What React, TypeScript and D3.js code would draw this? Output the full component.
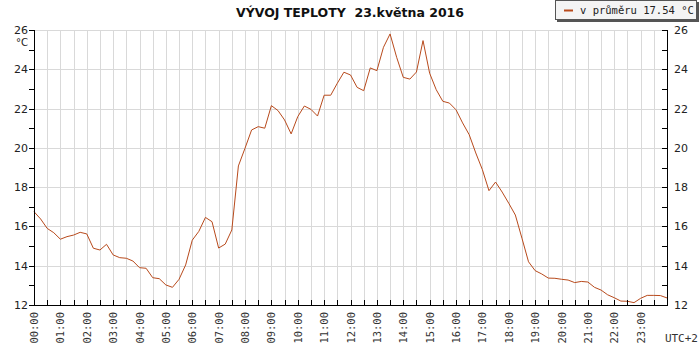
import React from "react";
import * as d3 from "d3";

// temperature every 15 minutes, 00:00 .. 24:00
const STEP_MIN = 15;
const temps = [
  16.75, 16.38, 15.9, 15.68, 15.35, 15.48, 15.56, 15.7, 15.62, 14.89, 14.8, 15.09,
  14.55, 14.41, 14.38, 14.24, 13.9, 13.87, 13.39, 13.34, 13.02, 12.9, 13.31, 14.04,
  15.3, 15.75, 16.46, 16.24, 14.9, 15.1, 15.82, 19.08, 19.98, 20.91, 21.08, 21.0,
  22.15, 21.9, 21.42, 20.71, 21.59, 22.13, 21.96, 21.62, 22.68, 22.68, 23.29, 23.85,
  23.71, 23.08, 22.91, 24.07, 23.93, 25.12, 25.8, 24.61, 23.59, 23.5, 23.86, 25.46,
  23.8, 22.96, 22.37, 22.28, 21.94, 21.27, 20.67, 19.74, 18.89, 17.82, 18.26, 17.75,
  17.18, 16.58, 15.4, 14.2, 13.75, 13.58, 13.37, 13.36, 13.31, 13.27, 13.14, 13.2,
  13.17, 12.9, 12.76, 12.52, 12.37, 12.2, 12.19, 12.12, 12.34, 12.49, 12.49, 12.48,
  12.36,
];
const hourLabels = [
  "00:00", "01:00", "02:00", "03:00", "04:00", "05:00", "06:00", "07:00",
  "08:00", "09:00", "10:00", "11:00", "12:00", "13:00", "14:00", "15:00",
  "16:00", "17:00", "18:00", "19:00", "20:00", "21:00", "22:00", "23:00",
];
const yTicks = [12, 14, 16, 18, 20, 22, 24, 26];
const title = "VÝVOJ TEPLOTY  23.května 2016";
const legendText = "v průměru 17.54 °C";

const W = 700;
const H = 350;
const left = 34;
const right = 667;
const top = 30;
const bottom = 305;
const LINE = "#b84a1c";
const GRID = "#d9d9d9";

function App() {
  const x = d3.scaleLinear().domain([0, 24 * 60]).range([left, right]);
  const y = d3.scaleLinear().domain([12, 26]).range([bottom, top]);
  const px = (v: number) => Math.round(v) + 0.5;

  const line = d3
    .line<number>()
    .x((_, i) => x(i * STEP_MIN))
    .y((d) => y(d));

  const halfHours = d3.range(0, 24 * 60 + 1, 30);
  const minorY = d3.range(12, 27, 1);

  return (
    <svg width={W} height={H} style={{ position: "absolute", left: 0, top: 0, background: "#fff" }}>
      {/* grid */}
      {halfHours.slice(1, -1).map((m) => (
        <line key={"vg" + m} x1={px(x(m))} x2={px(x(m))} y1={top} y2={bottom} stroke={GRID} />
      ))}
      {yTicks.slice(1).map((t) => (
        <line key={"hg" + t} x1={left} x2={right} y1={px(y(t))} y2={px(y(t))} stroke={GRID} />
      ))}

      {/* data line */}
      <path d={line(temps) || ""} fill="none" stroke={LINE} strokeWidth={1} />

      {/* axes */}
      <line x1={px(left)} x2={px(left)} y1={top} y2={bottom + 1} stroke="#000" />
      <line x1={px(right)} x2={px(right)} y1={top} y2={bottom + 1} stroke="#000" />
      <line x1={left} x2={right + 1} y1={px(bottom)} y2={px(bottom)} stroke="#000" />
      {minorY.map((t) => (
        <g key={"yt" + t}>
          <line x1={left - 5} x2={left} y1={px(y(t))} y2={px(y(t))} stroke="#000" />
          <line x1={right - 5} x2={right} y1={px(y(t))} y2={px(y(t))} stroke="#000" />
        </g>
      ))}
      {halfHours.map((m) => (
        <line key={"xt" + m} x1={px(x(m))} x2={px(x(m))} y1={bottom - 5} y2={bottom} stroke="#000" />
      ))}

      {/* tick labels */}
      <g fontFamily="DejaVu Sans" fontSize={11} fill="#222">
        {yTicks.map((t) => (
          <text key={"yl" + t} x={left - 6} y={y(t) + 4} textAnchor="end">{t}</text>
        ))}
        {yTicks.map((t) => (
          <text key={"yr" + t} x={right + 7} y={y(t) + 4}>{t}</text>
        ))}
        <text x={left - 6} y={top + 16} textAnchor="end" fontSize={10}>°C</text>
      </g>
      <g fontFamily="DejaVu Sans Mono" fontSize={10.5} fill="#333">
        {hourLabels.map((l, i) => (
          <text
            key={l}
            transform={`translate(${x(i * 60) + 4},${bottom + 7}) rotate(-90)`}
            textAnchor="end"
          >
            {l}
          </text>
        ))}
        <text x={W - 2} y={342} textAnchor="end" fontSize={11}>UTC+2</text>
      </g>

      {/* title */}
      <text
        x={350}
        y={17}
        textAnchor="middle"
        fontFamily="DejaVu Sans"
        fontWeight="bold"
        fontSize={12.5}
        fill="#111"
        style={{ whiteSpace: "pre" }}
      >
        {title}
      </text>

      {/* legend */}
      <rect x={557} y={2} width={142} height={20} fill="#555" />
      <rect x={555.5} y={0.5} width={141} height={19} fill="#f4f4f4" stroke="#555" />
      <line x1={564} x2={573} y1={10.5} y2={10.5} stroke={LINE} strokeWidth={2} />
      <text x={580} y={14} fontFamily="DejaVu Sans Mono" fontSize={10.5} fill="#222">{legendText}</text>
    </svg>
  );
}

export default App;
